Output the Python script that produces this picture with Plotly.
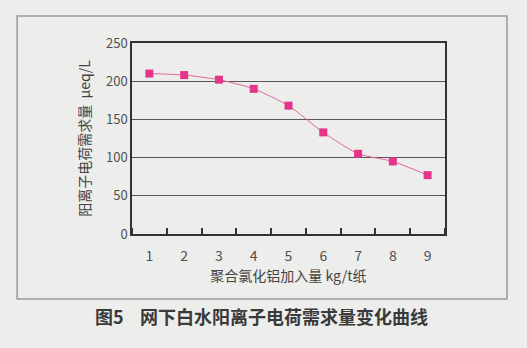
import plotly.graph_objects as go

dosage = [1, 2, 3, 4, 5, 6, 7, 8, 9]
demand = [210, 208, 202, 190, 168, 133, 105, 95, 77]
y_ticks = [0, 50, 100, 150, 200, 250]

BG = "#ededeb"
FONT = "Noto Sans CJK SC"

fig = go.Figure()
fig.add_trace(go.Scatter(
    x=dosage, y=demand, mode="lines+markers",
    line=dict(color="#e0689f", width=1, shape="spline", smoothing=0.6),
    marker=dict(symbol="square", size=8, color="#e5348b"),
    showlegend=False,
))

fig.update_layout(
    width=527, height=348,
    margin=dict(l=132, r=82, t=43, b=114),
    paper_bgcolor=BG, plot_bgcolor=BG,
    font=dict(family=FONT, color="#444444", size=12),
    xaxis=dict(
        range=[0.5, 9.5], tickvals=dosage, ticktext=[str(v) for v in dosage],
        showgrid=False, zeroline=False, ticks="",
        showline=True, linecolor="#333333", linewidth=1.5, mirror=True,
        minor=dict(tick0=0.5, dtick=1, ticks="inside", ticklen=6,
                   tickcolor="#333333", tickwidth=1.5, showgrid=False),
        ticklabelstandoff=8,
        tickfont=dict(size=14, color="#505050"),
        title=dict(text="聚合氯化铝加入量 kg/t纸", standoff=5,
                   font=dict(size=14, color="#444444")),
    ),
    yaxis=dict(
        range=[0, 250], tickvals=y_ticks, ticks="",
        showgrid=True, gridcolor="#555555", gridwidth=1, zeroline=False,
        showline=True, linecolor="#333333", linewidth=1.5, mirror=True,
        tickfont=dict(size=13, color="#505050"),
        title=dict(text="阳离子电荷需求量  μeq/L", standoff=12,
                   font=dict(size=14, color="#444444")),
    ),
    shapes=[dict(type="rect", xref="paper", yref="paper",
                 x0=-0.367, x1=1.198, y0=-0.340, y1=1.141,
                 line=dict(color="#9a9a9a", width=1.5), layer="below")],
    annotations=[dict(text="<b>图5    网下白水阳离子电荷需求量变化曲线</b>",
                      xref="paper", yref="paper", x=0.415, y=-0.43,
                      xanchor="center", yanchor="middle", showarrow=False,
                      font=dict(size=18, color="#3a3a3a", family=FONT))],
)

fig.write_html("out.html")
